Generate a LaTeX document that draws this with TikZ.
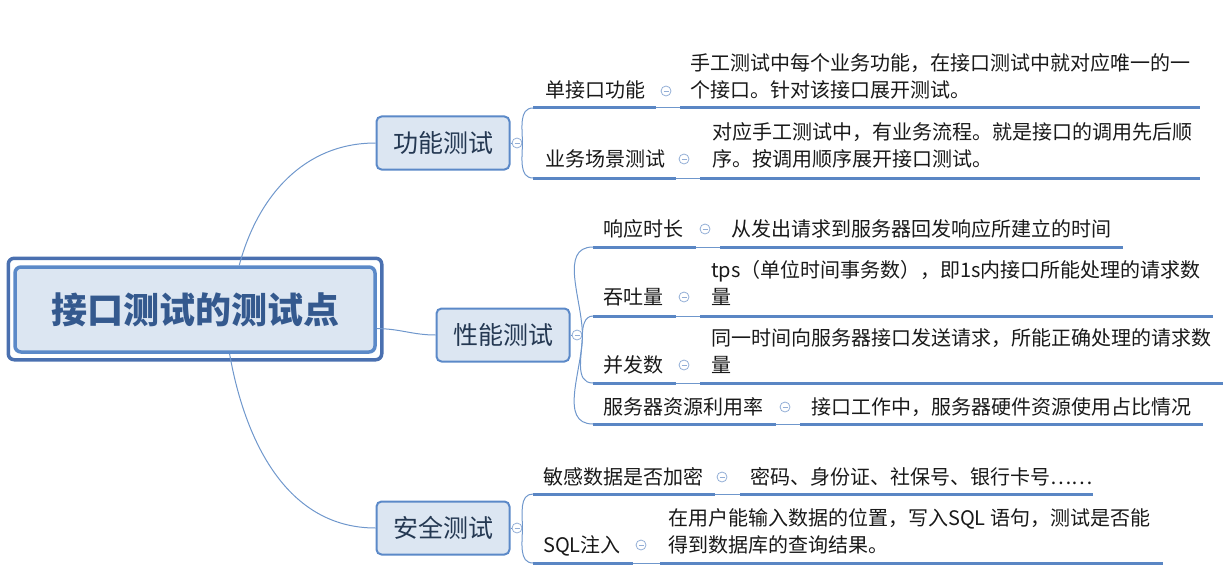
\documentclass[tikz,border=0pt]{standalone}
\usepackage{fontspec}
\setmainfont{Noto Sans CJK SC}
\usepackage{tikz}
\usetikzlibrary{positioning}

\definecolor{lineblue}{HTML}{6F97CC}
\definecolor{ulblue}{HTML}{5A86C4}
\definecolor{boxfill}{HTML}{DCE6F2}
\definecolor{boxline}{HTML}{5B89C8}
\definecolor{rootout}{HTML}{4A70B0}
\definecolor{roottext}{HTML}{34598E}
\definecolor{topictext}{HTML}{243852}
\definecolor{foldc}{HTML}{93AED6}

\tikzset{
  rootbox/.style={draw=boxline, fill=boxfill, line width=3.5pt, rounded corners=6pt,
    minimum width=360pt, minimum height=85pt, inner sep=0pt,
    text=roottext, font=\fontsize{36}{40}\selectfont\bfseries},
  topic/.style={draw=boxline, fill=boxfill, line width=2pt, rounded corners=5pt,
    minimum width=133pt, minimum height=53pt, inner sep=0pt,
    text=topictext, font=\fontsize{25}{30}\selectfont},
  leaf/.style={inner sep=0pt, text=black!90, font=\fontsize{20}{27}\selectfont},
  note/.style={inner sep=0pt, align=left, text=black!90, font=\fontsize{20}{27}\selectfont},
  fold/.style={circle, draw=foldc, line width=0.8pt, minimum size=10pt, inner sep=0pt,
    path picture={\draw[foldc, line width=0.8pt]
      ([xshift=2.5pt]path picture bounding box.west) -- ([xshift=-2.5pt]path picture bounding box.east);}},
  branch/.style={draw=lineblue, line width=1pt},
  uline/.style={draw=ulblue, line width=3pt},
  joint/.style={draw=lineblue, line width=1pt},
}

\begin{document}
\begin{tikzpicture}[x=1pt, y=-1pt]
    \useasboundingbox (0,0) rectangle (1230,583);

    % root
    \node[rootbox] (root) at (195,309.5) {接口测试的测试点};
    \draw[rootout, line width=3.5pt, rounded corners=6pt]
        ([shift={(-5,-7)}]root.north west) rectangle ([shift={(5,6)}]root.south east);

    % topics
    \node[topic] (fun) at (443,143) {功能测试};
    \node[topic] (perf) at (503,335) {性能测试};
    \node[topic] (sec) at (443,528) {安全测试};

    \node[fold] (cf) at (517,143) {};
    \node[fold] (cp) at (577,335) {};
    \node[fold] (cs) at (517,528) {};

    \draw[branch] (root.45) to[out=75, in=180] (fun.west);
    \draw[branch] (root.-6) to[out=0, in=180] (perf.west);
    \draw[branch] (root.-52) to[out=-80, in=180] (sec.west);
    \draw[branch] (fun.east) -- (cf.west);
    \draw[branch] (perf.east) -- (cp.west);
    \draw[branch] (sec.east) -- (cs.west);

    % 功能测试
    \coordinate (u1) at (533,108);
    \node[leaf, anchor=base west] (t1) at (545,98) {单接口功能};
    \node[fold] (f1) at (666,91) {};
    \node[note, anchor=base west] (d1) at (690,98) {手工测试中每个业务功能，在接口测试中就对应唯一的一\\个接口。针对该接口展开测试。};
    \draw[uline] (u1) -- (656,108);
    \draw[joint] (656,108) -- (680,108);
    \draw[uline] (680,108) -- (1200,108);

    \coordinate (u2) at (533,178);
    \node[leaf, anchor=base west] (t2) at (545,166) {业务场景测试};
    \node[fold] (f2) at (684,159) {};
    \node[note, anchor=base west] (d2) at (712,166) {对应手工测试中，有业务流程。就是接口的调用先后顺\\序。按调用顺序展开接口测试。};
    \draw[uline] (u2) -- (676,178);
    \draw[joint] (676,178) -- (700,178);
    \draw[uline] (700,178) -- (1200,178);

    \draw[branch] (cf.east) to[out=90, in=180] (u1);
    \draw[branch] (cf.east) to[out=-90, in=180] (u2);

    % 性能测试
    \coordinate (u3) at (593,247);
    \node[leaf, anchor=base west] (t3) at (603,236) {响应时长};
    \node[fold] (f3) at (705,229) {};
    \node[note, anchor=base west] (d3) at (731,236) {从发出请求到服务器回发响应所建立的时间};
    \draw[uline] (u3) -- (696,247);
    \draw[joint] (696,247) -- (720,247);
    \draw[uline] (720,247) -- (1123,247);

    \coordinate (u4) at (593,316);
    \node[leaf, anchor=base west] (t4) at (603,304) {吞吐量};
    \node[fold] (f4) at (684,297) {};
    \node[note, anchor=base west] (d4) at (711,304) {tps（单位时间事务数），即1s内接口所能处理的请求数\\量};
    \draw[uline] (u4) -- (676,316);
    \draw[joint] (676,316) -- (700,316);
    \draw[uline] (700,316) -- (1213,316);

    \coordinate (u5) at (593,383);
    \node[leaf, anchor=base west] (t5) at (603,372) {并发数};
    \node[fold] (f5) at (684,365) {};
    \node[note, anchor=base west] (d5) at (711,372) {同一时间向服务器接口发送请求，所能正确处理的请求数\\量};
    \draw[uline] (u5) -- (676,383);
    \draw[joint] (676,383) -- (700,383);
    \draw[uline] (700,383) -- (1223,383);

    \coordinate (u6) at (593,424);
    \node[leaf, anchor=base west] (t6) at (603,414) {服务器资源利用率};
    \node[fold] (f6) at (785,407) {};
    \node[note, anchor=base west] (d6) at (811,414) {接口工作中，服务器硬件资源使用占比情况};
    \draw[uline] (u6) -- (776,424);
    \draw[joint] (776,424) -- (800,424);
    \draw[uline] (800,424) -- (1203,424);

    \draw[branch] (cp.east) to[out=90, in=180] (u3);
    \draw[branch] (cp.east) to[out=90, in=180] (u4);
    \draw[branch] (cp.east) to[out=-90, in=180] (u5);
    \draw[branch] (cp.east) to[out=-90, in=180] (u6);

    % 安全测试
    \coordinate (u7) at (533,494);
    \node[leaf, anchor=base west] (t7) at (543,484) {敏感数据是否加密};
    \node[fold] (f7) at (722,477) {};
    \node[note, anchor=base west] (d7) at (750,484) {密码、身份证、社保号、银行卡号……};
    \draw[uline] (u7) -- (715,494);
    \draw[joint] (715,494) -- (740,494);
    \draw[uline] (740,494) -- (1093,494);

    \coordinate (u8) at (533,563);
    \node[leaf, anchor=base west] (t8) at (543,552) {SQL注入};
    \node[fold] (f8) at (641,545) {};
    \node[note, anchor=base west] (d8) at (668,552) {在用户能输入数据的位置，写入SQL 语句，测试是否能\\得到数据库的查询结果。};
    \draw[uline] (u8) -- (633,563);
    \draw[joint] (633,563) -- (660,563);
    \draw[uline] (660,563) -- (1163,563);

    \draw[branch] (cs.east) to[out=90, in=180] (u7);
    \draw[branch] (cs.east) to[out=-90, in=180] (u8);

\end{tikzpicture}
\end{document}
